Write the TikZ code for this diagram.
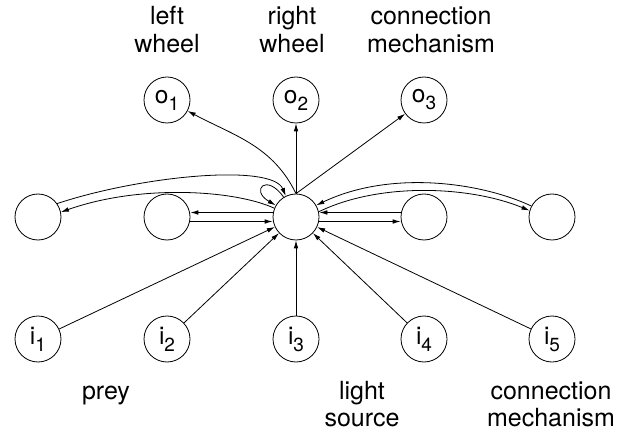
\documentclass[tikz,border=0pt]{standalone}
\usepackage{fontspec}
\setmainfont{TeX Gyre Heros}
\usetikzlibrary{arrows.meta}
\newcommand\sublab[2]{#1\raisebox{-7pt}{\fontsize{19}{19}\selectfont #2}}
\newcommand\twoline[2]{\begin{tabular}[t]{@{}c@{}}#1\\#2\end{tabular}}
\begin{document}
\begin{tikzpicture}[x=1pt,y=1pt,
  unit/.style={circle,draw,line width=0.8pt,minimum size=46pt,inner sep=0pt,font=\fontsize{24.5}{24.5}\selectfont},
  conn/.style={line width=0.8pt,-{Latex[length=8pt,width=4.6pt]}},
  lab/.style={inner sep=0pt,anchor=base,font=\fontsize{25}{27.5}\selectfont}]
\useasboundingbox (0,0) rectangle (628,-435);
% hidden units
\node[unit] (H) at (296,-217) {};
\node[unit] (L1) at (38,-217) {};
\node[unit] (L2) at (167,-217) {};
\node[unit] (R1) at (424,-217) {};
\node[unit] (R2) at (552,-217) {};
% outputs
\node[unit] (o1) at (167,-100) {\sublab{o}{1}};
\node[unit] (o2) at (296,-100) {\sublab{o}{2}};
\node[unit] (o3) at (424,-100) {\sublab{o}{3}};
% inputs
\node[unit] (i1) at (38,-339) {\sublab{i}{1}};
\node[unit] (i2) at (167,-339) {\sublab{i}{2}};
\node[unit] (i3) at (296,-339) {\sublab{i}{3}};
\node[unit] (i4) at (424,-339) {\sublab{i}{4}};
\node[unit] (i5) at (552,-339) {\sublab{i}{5}};
% labels
\node[lab] (tl1) at (167,-25) {\twoline{left}{wheel}};
\node[lab] (tl2) at (292,-25) {\twoline{right}{wheel}};
\node[lab] (tl3) at (431,-25) {\twoline{connection}{mechanism}};
\node[lab] (bl1) at (106,-399) {prey};
\node[lab] (bl2) at (362,-399) {\twoline{light}{source}};
\node[lab] (bl3) at (551,-399) {\twoline{connection}{mechanism}};
% outputs connections
\draw[conn] (H.north) to[out=116,in=-28] (o1);
\draw[conn] (H.north) -- (o2);
\draw[conn] (H.north) -- (o3);
% self loop
\draw[conn] (H.122) .. controls +(125:30) and +(150:30) .. (H.150);
% left far unit
\draw[conn] (L1.35) .. controls (140,-176) and (272,-163) .. (H.116);
\draw[conn] (H.158) .. controls (235,-190) and (140,-184) .. (L1.12);
% right far unit
\draw[conn] (R2.152) .. controls (480,-182) and (390,-170) .. (H.30);
\draw[conn] (H.13) .. controls (380,-182) and (470,-186) .. (R2.164);
% near units
\draw[conn] ([yshift=4.5pt]H.west) -- ([yshift=4.5pt]L2.east);
\draw[conn] ([yshift=-4.5pt]L2.east) -- ([yshift=-4.5pt]H.west);
\draw[conn] ([yshift=4.5pt]R1.west) -- ([yshift=4.5pt]H.east);
\draw[conn] ([yshift=-4.5pt]H.east) -- ([yshift=-4.5pt]R1.west);
% inputs
\foreach \k in {1,...,5} { \draw[conn] (i\k) -- (H); }
\end{tikzpicture}
\end{document}
